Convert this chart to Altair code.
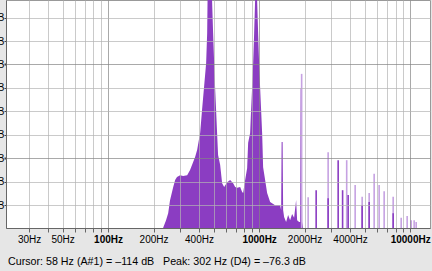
import altair as alt
import pandas as pd

# ---- data (frequency in Hz, level in dB) ----
FLOOR_DB = -94.86
TOP_DB = -46.25
F_MIN, F_MAX = 21.1, 13530

body_freq = [231, 242, 250, 257, 270, 278, 286, 300, 314, 334, 349, 366, 377, 389, 401, 407,
             419, 432, 446, 453, 458, 478, 488, 496, 504, 511, 519, 527, 535, 552, 569, 587,
             614, 643, 673, 694, 715, 749, 772, 784, 808, 833, 846, 872, 885, 899, 913, 927,
             941, 946, 965, 970, 985, 1000, 1015, 1031, 1047, 1055, 1063, 1096, 1130, 1183,
             1276, 1378, 1399, 1409, 1431, 1442, 1464, 1509, 1556, 1604, 1654, 1705, 1758,
             1785, 1840, 1869, 1883, 1912, 1927, 1956]
body_db = [-94.9, -93.2, -91.7, -89.0, -86.1, -84.6, -84.0, -83.6, -83.8, -83.6, -82.5, -80.8,
           -79.7, -78.2, -75.7, -74.6, -69.7, -64.8, -59.7, -53.3, -40.0, -40.0, -46.2, -53.3,
           -59.7, -64.8, -69.7, -74.6, -79.3, -81.4, -85.3, -86.1, -85.1, -84.6, -85.3, -86.1,
           -86.3, -86.1, -87.2, -87.4, -84.6, -82.1, -76.7, -74.6, -69.7, -64.8, -59.7, -53.3,
           -46.2, -40.0, -40.0, -46.2, -53.3, -59.7, -64.8, -69.7, -74.6, -78.2, -81.9, -84.6,
           -87.4, -89.3, -90.0, -90.0, -91.0, -76.5, -76.5, -91.0, -92.5, -93.6, -92.1, -93.2,
           -91.9, -92.7, -88.9, -93.2, -93.6, -93.6, -65.0, -65.0, -93.6, -94.9]

spike_freq = [1912, 2112, 2386, 2864, 2864, 3337, 3570, 3800, 3886, 4323, 4810, 4810, 5353,
              5353, 5776, 6232, 6727, 7718, 7718, 8720, 9552, 10153, 10628, 10958]
spike_db = [-62.0, -88.3, -86.8, -78.7, -88.5, -80.4, -86.8, -80.4, -87.8, -85.7, -88.2, -90.0,
            -87.4, -89.3, -83.3, -85.7, -87.0, -88.2, -91.7, -92.7, -92.3, -93.2, -93.2, -93.6]
spike_tone = ["light", "light", "dark", "light", "dark", "dark", "dark", "light", "dark",
              "light", "light", "dark", "light", "dark", "light", "light", "light", "light",
              "dark", "light", "light", "light", "light", "light"]

grid_freq = [30, 40, 50, 60, 70, 80, 90, 100, 200, 300, 400, 500, 600, 700, 800, 900,
             1000, 2000, 3000, 4000, 5000, 6000, 7000, 8000, 9000, 10000]
label_freq = [30, 50, 100, 200, 400, 1000, 2000, 4000, 10000]
bold_freq = [100, 1000, 10000]
grid_db = [-90, -85, -80, -75, -70, -65, -60, -55, -50]
major_db = [-80, -60]

cursor_text = "Cursor: 58 Hz (A#1) = \u2013114 dB"
peak_text = "Peak: 302 Hz (D4) = \u201376.3 dB"

PURPLE = "#8b3dc2"
LIGHT_PURPLE = "#c6a2e2"

# ---- build table ----
body = pd.DataFrame({"freq": body_freq, "db": body_db, "kind": "body", "tone": "dark"})
spikes = pd.DataFrame({"freq": spike_freq, "db": spike_db, "kind": "spike", "tone": spike_tone})
spikes["order"] = spikes["tone"].map({"light": 0, "dark": 1})
spikes = spikes.sort_values("order", kind="stable").drop(columns="order")
df = pd.concat([body, spikes], ignore_index=True)

font = "Liberation Sans"

x_axis = alt.Axis(
    values=grid_freq,
    labelExpr=f"indexof({label_freq}, datum.value) >= 0 ? datum.value + 'Hz' : ''",
    labelFontWeight=alt.condition(f"indexof({bold_freq}, datum.value) >= 0",
                                  alt.value("bold"), alt.value("normal")),
    gridColor=alt.condition(f"indexof({bold_freq}, datum.value) >= 0",
                            alt.value("#858585"), alt.value("#b4b4b4")),
    gridOpacity=0.7,
    labelOverlap=False, labelFlush=False, labelBound=False,
    labelFont=font, labelFontSize=10, labelColor="black", labelPadding=2,
    tickSize=4, tickColor="#666", domainColor="#666", title=None, zindex=1,
)
y_axis = alt.Axis(
    values=grid_db,
    labelExpr="datum.value + 'dB'",
    gridColor=alt.condition(f"indexof({major_db}, datum.value) >= 0",
                            alt.value("#858585"), alt.value("#b4b4b4")),
    gridOpacity=0.7,
    tickWidth=alt.condition(f"indexof({major_db}, datum.value) >= 0",
                            alt.value(2), alt.value(1)),
    labelFont=font, labelFontSize=10, labelColor="black", labelPadding=0,
    labelOverlap=False, tickSize=2, tickColor="#444", domainColor="#666",
    title=None, zindex=1,
)

base = alt.Chart(df).encode(
    x=alt.X("freq:Q", scale=alt.Scale(type="log", domain=[F_MIN, F_MAX], nice=False), axis=x_axis),
    y=alt.Y("db:Q", scale=alt.Scale(domain=[FLOOR_DB, TOP_DB], nice=False, zero=False), axis=y_axis),
)

area = base.transform_filter(alt.datum.kind == "body").mark_area(
    color=PURPLE, clip=True, interpolate="linear").encode(y2=alt.datum(FLOOR_DB))

rules = base.transform_filter(alt.datum.kind == "spike").mark_rule(
    clip=True, strokeWidth=1.6).encode(
    y2=alt.datum(FLOOR_DB),
    color=alt.Color("tone:N", scale=alt.Scale(domain=["light", "dark"], range=[LIGHT_PURPLE, PURPLE]),
                    legend=None),
)

t1 = alt.Chart(pd.DataFrame({"t": [cursor_text]})).mark_text(
    align="left", baseline="alphabetic", fontSize=10.7, font=font, color="black").encode(
    x=alt.value(2), y=alt.value(265), text="t:N")
t2 = alt.Chart(pd.DataFrame({"t": [peak_text]})).mark_text(
    align="left", baseline="alphabetic", fontSize=10.7, font=font, color="black").encode(
    x=alt.value(157), y=alt.value(265), text="t:N")

chart = alt.layer(area, rules, t1, t2).properties(
    width=424, height=228,
    autosize=alt.AutoSizeParams(type="none"),
    padding={"left": 6, "top": 0, "right": 2, "bottom": 43},
    background="#e6e6e6",
).configure_view(fill="white", stroke="#999999", strokeWidth=1)

chart.save("out.html", embed_options={"renderer": "svg", "actions": False})
